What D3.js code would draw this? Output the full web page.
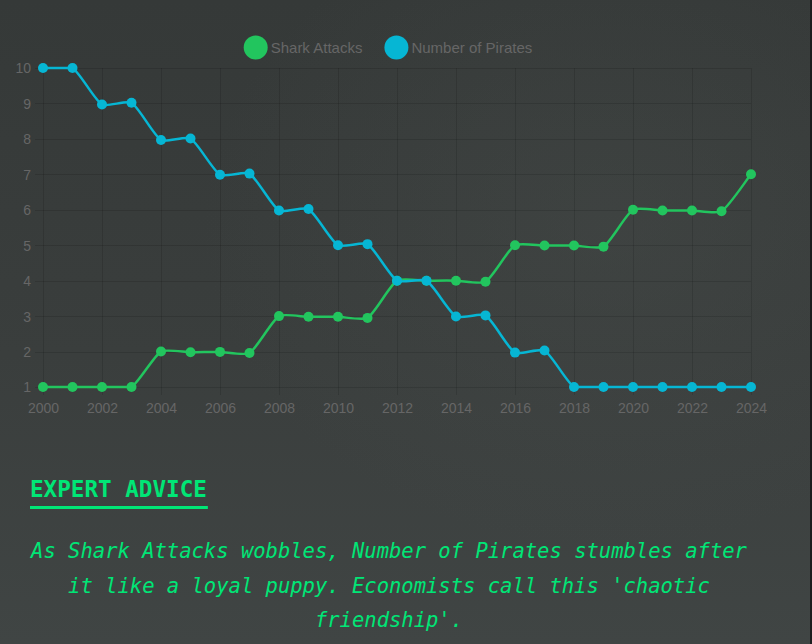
<!DOCTYPE html>
<html>
<head>
<meta charset="utf-8">
<script src="https://cdn.jsdelivr.net/npm/d3@7"></script>
<style>
html,body{margin:0;padding:0;width:812px;height:644px;overflow:hidden;background:#3b3f3e;}
svg{display:block;}
</style>
</head>
<body>
<svg id="c" width="812" height="644"></svg>
<script>
const years = d3.range(2000, 2025);
const sharkAttacks = [1,1,1,1, 2.0,1.98,1.99,1.96, 3.0,2.98,2.98,2.95, 4.0,4.0,4.0,3.97, 5.0,4.99,4.99,4.96, 6.0,5.98,5.98,5.96, 7.0];
const numberOfPirates = [10,10, 8.97,9.02, 7.97,8.01, 6.99,7.02, 5.98,6.02, 5.0,5.03, 4.0,4.0, 2.99,3.02, 1.97,2.03, 1,1,1,1,1,1,1];
const xTicks = d3.range(2000, 2025, 2);
const yTicks = d3.range(1, 11);
const seriesNames = ["Shark Attacks", "Number of Pirates"];
const seriesColors = ["#22c55e", "#06b6d4"];
const adviceTitle = "EXPERT ADVICE";
const adviceLines = [
  "As Shark Attacks wobbles, Number of Pirates stumbles after",
  "it like a loyal puppy. Economists call this 'chaotic",
  "friendship'."
];

(function(){
const svg = d3.select("#c");
const W = 812, H = 644;

// background
const defs = svg.append("defs");
const lg = defs.append("linearGradient").attr("id","bg").attr("x1",0).attr("y1",0).attr("x2",0).attr("y2",1);
lg.append("stop").attr("offset","0%").attr("stop-color","#353938");
lg.append("stop").attr("offset","55%").attr("stop-color","#3a3e3d");
lg.append("stop").attr("offset","100%").attr("stop-color","#404544");
svg.append("rect").attr("width",W).attr("height",H).attr("fill","url(#bg)");
const rg = defs.append("radialGradient").attr("id","vg").attr("cx","0.75").attr("cy","0.35").attr("r","0.5");
rg.append("stop").attr("offset","0%").attr("stop-color","#4a4f4d").attr("stop-opacity",0.35);
rg.append("stop").attr("offset","100%").attr("stop-color","#4a4f4d").attr("stop-opacity",0);
svg.append("rect").attr("width",W).attr("height",H).attr("fill","url(#vg)");
svg.append("rect").attr("x",810).attr("y",0).attr("width",2).attr("height",H).attr("fill","#1c1e1e");

const cl = 43, cr = 751, ct = 68, cb = 387;
const x = d3.scaleLinear().domain([2000, 2024]).range([cl, cr]);
const y = d3.scaleLinear().domain([1, 10]).range([cb, ct]);

// grid
const grid = svg.append("g").attr("stroke","rgba(0,0,0,0.12)").attr("stroke-width",1);
grid.selectAll("line.h").data(yTicks).join("line").attr("class","h")
  .attr("x1", cl - 8).attr("x2", cr)
  .attr("y1", d => Math.round(y(d)) + 0.5).attr("y2", d => Math.round(y(d)) + 0.5);
grid.selectAll("line.v").data(xTicks).join("line").attr("class","v")
  .attr("y1", ct).attr("y2", cb + 8)
  .attr("x1", d => Math.round(x(d)) + 0.5).attr("x2", d => Math.round(x(d)) + 0.5);

// axes labels via d3 axes
const sans = "'Liberation Sans', Arial, Helvetica, sans-serif";
const xAxis = d3.axisBottom(x).tickValues(xTicks).tickFormat(d3.format("d")).tickSize(0).tickPadding(16.5);
const gx = svg.append("g").attr("transform", `translate(0,${cb})`).call(xAxis);
const yAxis = d3.axisLeft(y).tickValues(yTicks).tickFormat(d3.format("d")).tickSize(0).tickPadding(12);
const gy = svg.append("g").attr("transform", `translate(${cl},0)`).call(yAxis);
[gx, gy].forEach(g => {
  g.select(".domain").remove();
  g.selectAll("text").attr("fill","#666").attr("font-family",sans).attr("font-size","14px");
});
gy.selectAll("text").attr("dy","0.35em");

// Chart.js-like spline
function splinePath(vals) {
  const t = 0.2;
  const pts = vals.map((v,i) => ({x: x(years[i]), y: y(v)}));
  pts.forEach((p,i) => {
    const prev = pts[i-1] || p, next = pts[i+1] || p;
    const d01 = Math.hypot(p.x-prev.x, p.y-prev.y);
    const d12 = Math.hypot(next.x-p.x, next.y-p.y);
    let s01 = d01/(d01+d12), s12 = d12/(d01+d12);
    s01 = isNaN(s01) ? 0 : s01; s12 = isNaN(s12) ? 0 : s12;
    const fa = t*s01, fb = t*s12;
    const clampY = v => Math.max(ct, Math.min(cb, v));
    const clampX = v => Math.max(cl, Math.min(cr, v));
    p.c1x = clampX(p.x - fa*(next.x-prev.x)); p.c1y = clampY(p.y - fa*(next.y-prev.y));
    p.c2x = clampX(p.x + fb*(next.x-prev.x)); p.c2y = clampY(p.y + fb*(next.y-prev.y));
  });
  const path = d3.path();
  path.moveTo(pts[0].x, pts[0].y);
  for (let i = 1; i < pts.length; i++) {
    path.bezierCurveTo(pts[i-1].c2x, pts[i-1].c2y, pts[i].c1x, pts[i].c1y, pts[i].x, pts[i].y);
  }
  return path.toString();
}

[sharkAttacks, numberOfPirates].forEach((vals, si) => {
  svg.append("path").attr("d", splinePath(vals)).attr("fill","none")
    .attr("stroke", seriesColors[si]).attr("stroke-width", 2.5);
  svg.append("g").selectAll("circle").data(vals).join("circle")
    .attr("cx", (d,i) => x(years[i])).attr("cy", d => y(d)).attr("r", 5)
    .attr("fill", seriesColors[si]);
});

// legend
const legend = svg.append("g");
const items = legend.selectAll("g").data(seriesNames).join("g");
items.append("circle").attr("r", 12).attr("cy", 47.5).attr("fill", (d,i) => seriesColors[i]);
items.append("text").text(d => d).attr("y", 47.5).attr("dy","0.35em")
  .attr("font-family",sans).attr("font-size","15px").attr("fill","#666");
const widths = [];
items.each(function(){ widths.push(d3.select(this).select("text").node().getComputedTextLength()); });
const gap = 22, box = 24, tgap = 3;
const total = widths.reduce((a,w)=>a+box+tgap+w,0) + gap*(widths.length-1);
let cursor = 388 - total/2;
items.each(function(d,i){
  const g = d3.select(this);
  g.select("circle").attr("cx", cursor + box/2);
  g.select("text").attr("x", cursor + box + tgap);
  cursor += box + tgap + widths[i] + gap;
});

// advice
const mono = "'DejaVu Sans Mono', monospace";
const title = svg.append("text").text(adviceTitle).attr("x",30).attr("y",497)
  .attr("font-family",mono).attr("font-weight","bold").attr("font-size","22.6px").attr("fill","#00e676");
const tw = title.node().getComputedTextLength();
svg.append("rect").attr("x",30).attr("y",506).attr("width",tw + 1).attr("height",3).attr("fill","#00e676");
svg.append("g").selectAll("text").data(adviceLines).join("text")
  .text(d => d).attr("x", 389).attr("y", (d,i) => 558 + i*34.6)
  .attr("text-anchor","middle").attr("font-family",mono).attr("font-style","italic")
  .attr("font-size","20.5px").attr("fill","#00e676");
})();
</script>
</body>
</html>
